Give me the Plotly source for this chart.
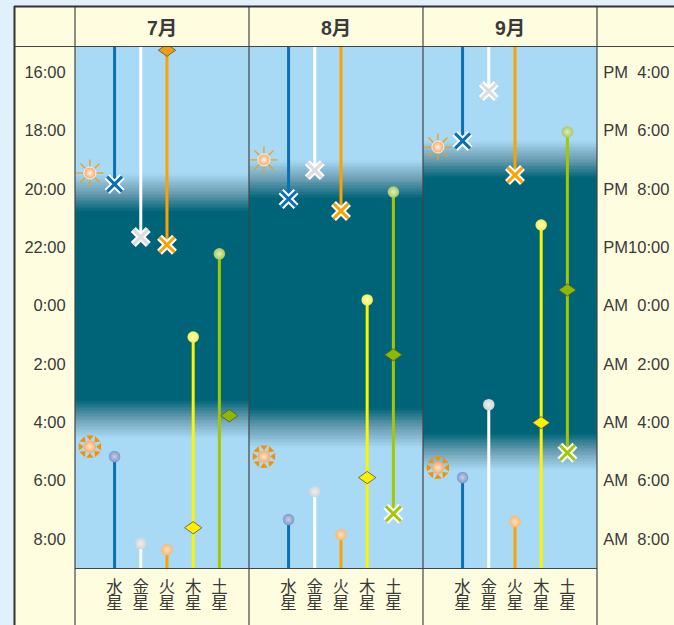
import plotly.graph_objects as go
import numpy as np

months = ["7月", "8月", "9月"]
planets = ["水星", "金星", "火星", "木星", "土星"]
hour_ticks = [16, 18, 20, 22, 24, 26, 28, 30, 32]
left_labels = ["16:00", "18:00", "20:00", "22:00", "0:00", "2:00", "4:00", "6:00", "8:00"]
right_labels = ["PM\u00a0\u00a04:00", "PM\u00a0\u00a06:00", "PM\u00a0\u00a08:00", "PM10:00", "AM\u00a0\u00a00:00",
                "AM\u00a0\u00a02:00", "AM\u00a0\u00a04:00", "AM\u00a0\u00a06:00", "AM\u00a0\u00a08:00"]

# hours after midnight of the evening's day (24+ = next morning)
sets_jul = [19.84, 21.65, 21.92, None, None]
sets_aug = [20.35, 19.36, 20.76, None, 31.14]
sets_sep = [18.36, 16.65, 19.53, None, 29.05]
rises_jul = [29.18, 32.16, 32.37, 25.08, 22.23]
rises_aug = [31.34, 30.38, 31.86, 23.81, 20.11]
rises_sep = [29.90, 27.40, 31.41, 21.24, 18.05]
transit_jul = [None, None, 15.25, 31.62, 27.78]
transit_aug = [None, None, None, 29.90, 25.69]
transit_sep = [None, None, None, 28.02, 23.47]
transit_shift_jul = [0, 0, 0, 0, 0.38]
sunset = [19.46, 19.01, 18.57]
sunrise = [28.84, 29.18, 29.56]
# twilight: evening start, evening end, morning start, morning end
twilight_jul = [19.46, 20.79, 27.23, 28.53]
twilight_aug = [19.01, 20.32, 27.50, 28.88]
twilight_sep = [18.33, 19.63, 28.36, 29.63]

sets_all = [sets_jul, sets_aug, sets_sep]
rises_all = [rises_jul, rises_aug, rises_sep]
transit_all = [transit_jul, transit_aug, transit_sep]
shift_all = [transit_shift_jul, [0] * 5, [0] * 5]
twilight_all = [twilight_jul, twilight_aug, twilight_sep]

line_colors = ["#0a6fb5", "#ffffff", "#fba200", "#fbf600", "#a4c800"]
x_colors = ["#0a6fb5", "#dcdcdc", "#fba200", "#fbf600", "#a4c800"]
dot_edge = ["#7f97c8", "#d4d4d4", "#f9b872", "#f2ee50", "#a9c95c"]
dot_core = ["#c9d0e6", "#eeeeee", "#fce0bc", "#ffffc0", "#dfeebd"]
dia_colors = ["#f39c12", "#f39c12", "#f39c12", "#ffee00", "#8fb800"]

SKY = "#a8daf5"
MID = "#6c9fb4"
DARK = "#006478"
CREAM = "#fffddf"
INK = "#3a3a3a"
TOP, BOTTOM = 15.14, 33.0
XMIN, XMAX = -1.51, 5.13
W, H = 674, 625
DIA_DX, DIA_DY = 0.33, 0.21

fig = go.Figure()
panels = [(75, 249), (249, 423), (423, 597)]
ids = ["", "2", "3"]

grid = np.arange(TOP - 0.05, BOTTOM + 0.1, 0.05)
for i, (tw, suf) in enumerate(zip(twilight_all, ids)):
    xa, ya = "x" + suf, "y" + suf
    z = np.interp(grid, [0, tw[0], tw[1], tw[2], tw[3], 40], [0, 0, 1, 1, 0, 0])
    fig.add_trace(go.Heatmap(x=[XMIN, XMAX], y=grid, z=np.column_stack([z, z]),
                             colorscale=[[0, SKY], [0.5, MID], [1, DARK]], zmin=0, zmax=1, showscale=False,
                             xaxis=xa, yaxis=ya, hoverinfo="skip"))
    # visibility lines
    for p in range(5):
        s, r = sets_all[i][p], rises_all[i][p]
        if s is not None and s > r:
            spans = [(r, s)]
        elif s is not None:
            spans = [(TOP, s), (r, BOTTOM)]
        else:
            spans = [(r, BOTTOM)]
        if p == 2 and i == 0:
            spans = [(transit_jul[2], s), (r, BOTTOM)]
        for a, b in spans:
            fig.add_trace(go.Scatter(x=[p, p], y=[a, b], mode="lines", xaxis=xa, yaxis=ya,
                                     line=dict(color=line_colors[p], width=3), showlegend=False))
    # transits
    for p in range(5):
        t = transit_all[i][p]
        if t is not None:
            cx = p + shift_all[i][p]
            fig.add_trace(go.Scatter(x=[cx - DIA_DX, cx, cx + DIA_DX, cx, cx - DIA_DX],
                                     y=[t, t - DIA_DY, t, t + DIA_DY, t], mode="lines", fill="toself",
                                     fillcolor=dia_colors[p], xaxis=xa, yaxis=ya,
                                     line=dict(color="#555533", width=0.8), showlegend=False))
    # sets: X markers
    for p in range(5):
        s = sets_all[i][p]
        if s is not None:
            for col, lw in (("#ffffff", 7), (x_colors[p], 3)):
                fig.add_trace(go.Scatter(x=[p], y=[s], mode="markers", xaxis=xa, yaxis=ya,
                                         marker=dict(symbol="x-thin", size=15, line=dict(color=col, width=lw)),
                                         showlegend=False))
    # rises: dots
    for p in range(5):
        fig.add_trace(go.Scatter(x=[p], y=[rises_all[i][p]], mode="markers", xaxis=xa, yaxis=ya,
                                 marker=dict(symbol="circle", size=11.5, color=dot_edge[p],
                                             gradient=dict(type="radial", color=dot_core[p]),
                                             line=dict(width=0)),
                                 showlegend=False))
    # sun evening
    angles = list(range(0, 360, 45))
    sun_x = -0.94
    fig.add_trace(go.Scatter(x=[sun_x] * 8, y=[sunset[i]] * 8, mode="markers", xaxis=xa, yaxis=ya,
                             marker=dict(symbol="line-ns", size=5, angle=angles, standoff=10,
                                         line=dict(color="#f39c12", width=1.3)), showlegend=False))
    fig.add_trace(go.Scatter(x=[sun_x], y=[sunset[i]], mode="markers", xaxis=xa, yaxis=ya,
                             marker=dict(symbol="circle", size=12, color="#f5a76c",
                                         gradient=dict(type="radial", color="#fdf0e0"), line=dict(width=1, color="#fff3e6")),
                             showlegend=False))
    # sun morning
    fig.add_trace(go.Scatter(x=[sun_x] * 8, y=[sunrise[i]] * 8, mode="markers", xaxis=xa, yaxis=ya,
                             marker=dict(symbol="triangle-up", size=6.5, angle=angles, standoff=9.5,
                                         color="#f59000", line=dict(width=0)), showlegend=False))
    fig.add_trace(go.Scatter(x=[sun_x], y=[sunrise[i]], mode="markers", xaxis=xa, yaxis=ya,
                             marker=dict(symbol="circle", size=12, color="#f8a868",
                                         gradient=dict(type="radial", color="#fde8d2"), line=dict(width=0)),
                             showlegend=False))

# invisible trace for the right axis
fig.add_trace(go.Scatter(x=[None], y=[None], xaxis="x3", yaxis="y4", showlegend=False))

ydom = [1 - 568 / H, 1 - 47 / H]
tick_labels = ["<span style='font-size:16.5px'>%s</span><br><span style='font-size:16.5px'>%s</span>" % (n[0], n[1])
               for n in planets]
layout = dict(width=W, height=H, margin=dict(l=0, r=0, t=0, b=0), paper_bgcolor="#e0f1fc",
              plot_bgcolor=SKY, showlegend=False, font=dict(family="Liberation Sans, Noto Sans CJK JP", color=INK))
for (a, b), suf, i in zip(panels, ["", "2", "3"], range(3)):
    layout["xaxis" + suf] = dict(domain=[a / W, b / W], range=[XMIN, XMAX], anchor="y" + suf, tickmode="array",
                                 tickvals=list(range(5)), ticktext=tick_labels, ticks="outside", ticklen=9,
                                 tickcolor="rgba(0,0,0,0)",
                                 tickfont=dict(size=12.4, family="Noto Sans CJK JP", color=INK),
                                 showgrid=False, zeroline=False, showline=False, fixedrange=True)
    layout["yaxis" + suf] = dict(domain=ydom, range=[BOTTOM, TOP], anchor="x" + suf, showgrid=False, zeroline=False,
                                 showline=False, fixedrange=True,
                                 tickmode="array", tickvals=hour_ticks,
                                 ticktext=left_labels if i == 0 else [""] * 9, ticks="outside" if i == 0 else "",
                                 ticklen=5, tickcolor="rgba(0,0,0,0)", tickfont=dict(size=16.5, color=INK))
layout["yaxis4"] = dict(domain=ydom, range=[BOTTOM, TOP], anchor="x3", overlaying="y3", side="right", showgrid=False,
                        zeroline=False, showline=False, fixedrange=True, tickmode="array", tickvals=hour_ticks,
                        ticktext=right_labels, ticks="outside", ticklen=2, tickcolor="rgba(0,0,0,0)",
                        tickfont=dict(size=16.5, color=INK))

shapes = [dict(type="rect", xref="paper", yref="paper", x0=14 / W, x1=1, y0=0, y1=1 - 7 / H, fillcolor=CREAM,
               line=dict(width=0), layer="below")]
def vline(px, y0, y1, w=1.2, c="#444444"):
    return dict(type="line", xref="paper", yref="paper", x0=px / W, x1=px / W, y0=1 - y0 / H, y1=1 - y1 / H,
                line=dict(color=c, width=w))
def hline(py, x0, x1, w=1.2, c="#444444"):
    return dict(type="line", xref="paper", yref="paper", x0=x0 / W, x1=x1 / W, y0=1 - py / H, y1=1 - py / H,
                line=dict(color=c, width=w))
for px in (75, 249, 423, 597):
    shapes.append(vline(px, 7, 625))
shapes.append(hline(46.5, 14, 674))
shapes.append(hline(568.5, 75, 597))
shapes.append(vline(14.5, 6, 625, 2, "#333333"))
shapes.append(hline(6.5, 14, 674, 2, "#333333"))
layout["shapes"] = shapes
layout["annotations"] = [dict(text="<b>%s</b>" % m, xref="paper", yref="paper", x=(a + b) / 2 / W, y=1 - 28 / H,
                              xanchor="center", yanchor="middle",
                              showarrow=False, font=dict(size=19.5, color=INK, family="Liberation Sans, Noto Sans CJK JP"))
                         for m, (a, b) in zip(months, panels)]
fig.update_layout(**layout)
fig.write_html("out.html", config={"displayModeBar": False},
               post_script="document.body.style.margin='0';document.body.style.overflow='hidden';")
